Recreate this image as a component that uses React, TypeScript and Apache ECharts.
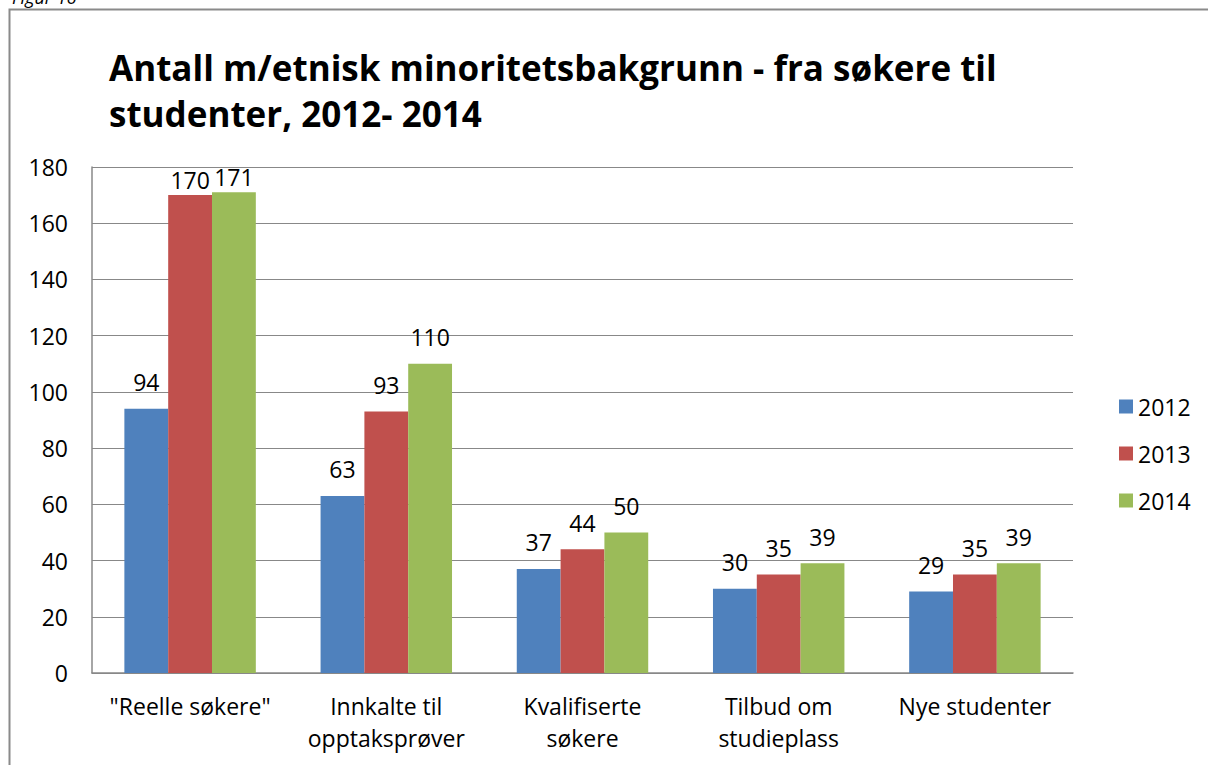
import React, { useEffect, useRef } from "react";
import * as echarts from "echarts";

const categories = [
  '"Reelle søkere"',
  "Innkalte til\nopptaksprøver",
  "Kvalifiserte\nsøkere",
  "Tilbud om\nstudieplass",
  "Nye studenter",
];
const years = ["2012", "2013", "2014"];
const values2012 = [94, 63, 37, 30, 29];
const values2013 = [170, 93, 44, 35, 35];
const values2014 = [171, 110, 50, 39, 39];
const colors = ["#4F81BD", "#C0504D", "#9BBB59"];
const yTicks = { min: 0, max: 180, interval: 20 };
const titleText = "Antall m/etnisk minoritetsbakgrunn - fra søkere til\nstudenter, 2012- 2014";
const FONT = "'Open Sans', Lato, sans-serif";

export default function App() {
  const ref = useRef<HTMLDivElement>(null);
  useEffect(() => {
    const chart = echarts.init(ref.current!, null, { renderer: "svg" });
    const seriesData = [values2012, values2013, values2014];
    chart.setOption({
      animation: false,
      backgroundColor: "#fff",
      textStyle: { fontFamily: FONT, color: "#000" },
      title: {
        text: titleText,
        left: 104,
        top: 39,
        textStyle: {
          fontFamily: FONT,
          fontSize: 35,
          fontWeight: "bold",
          color: "#000",
          lineHeight: 46,
        },
      },
      graphic: [
        {
          type: "rect",
          shape: { x: 9.5, y: 9.5, width: 1400, height: 900 },
          style: { fill: "none", stroke: "#8a8a8a", lineWidth: 2 },
          silent: true,
        },
        {
          type: "text",
          left: 12,
          top: -12,
          style: {
            text: "Figur 16",
            font: `italic 18px ${FONT}`,
            fill: "#000",
          },
        },
      ],
      legend: {
        orient: "vertical",
        left: 1114,
        top: 390,
        itemWidth: 14,
        itemHeight: 14,
        itemGap: 24,
        icon: "rect",
        textStyle: { fontFamily: FONT, fontSize: 23, color: "#000" },
        data: years,
      },
      grid: { left: 92, right: 135, top: 167, bottom: 92, containLabel: false },
      xAxis: {
        type: "category",
        data: categories,
        axisLine: { lineStyle: { color: "#888", width: 1.5 } },
        axisTick: { show: false },
        axisLabel: {
          fontFamily: FONT,
          fontSize: 23,
          color: "#000",
          lineHeight: 32,
          margin: 17,
          interval: 0,
        },
      },
      yAxis: {
        type: "value",
        min: yTicks.min,
        max: yTicks.max,
        interval: yTicks.interval,
        axisLine: { show: true, lineStyle: { color: "#888", width: 1.5 } },
        axisTick: { show: false },
        splitLine: { lineStyle: { color: "#888", width: 1.2 } },
        axisLabel: { fontFamily: FONT, fontSize: 23, color: "#000", margin: 24 },
      },
      series: years.map((y, i) => ({
        name: y,
        type: "bar",
        data: seriesData[i].map((v) =>
          v > 160 ? { value: v, label: { distance: 4 } } : v
        ),
        barGap: "0%",
        barCategoryGap: "33%",
        itemStyle: { color: colors[i] },
        label: {
          show: true,
          position: "top",
          distance: 15,
          fontFamily: FONT,
          fontSize: 23,
          color: "#000",
        },
      })),
    });
    return () => chart.dispose();
  }, []);
  return (
    <div
      ref={ref}
      style={{ position: "fixed", left: 0, top: 0, width: 1208, height: 765 }}
    />
  );
}
